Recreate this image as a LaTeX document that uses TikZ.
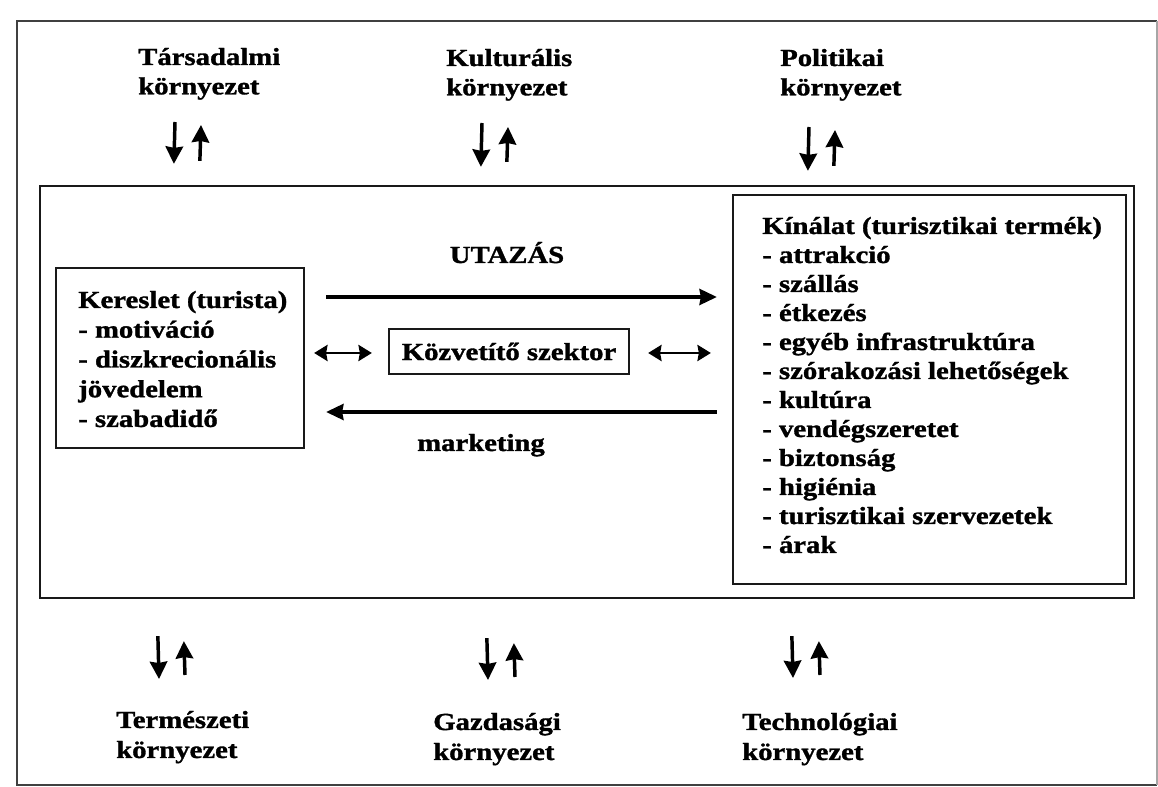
\documentclass[tikz,border=0pt]{standalone}
\usepackage{fontspec}
\newfontfamily\df[FakeStretch=1.17,FakeBold=1.3]{Liberation Serif}
\usetikzlibrary{arrows.meta,calc}
\newcommand\blk[1]{\begin{tabular}[t]{@{}l@{}}#1\end{tabular}}
\begin{document}
\begin{tikzpicture}[x=0.75pt,y=-0.75pt,
  lbl/.style={inner sep=0pt, anchor=base west, font=\df\bfseries\fontsize{18.4}{22}\selectfont},
  boxx/.style={draw=black!90, line width=1.7pt, rectangle, inner sep=0pt},
  envarr/.style={line width=2.6pt, -{Stealth[length=13pt,width=13pt,inset=1pt]}},
  bigarr/.style={line width=2.6pt, -{Stealth[length=13pt,width=12pt,inset=1pt]}},
  dblarr/.style={line width=2.2pt, {Stealth[length=10pt,width=12pt,inset=1pt]}-{Stealth[length=10pt,width=12pt,inset=1pt]}}]
\useasboundingbox (0,0) rectangle (1158,787);
% outer frame
\draw[line width=2pt, black!75] (1157,785) -- (17,785) -- (17,21) -- (1157,21);
\draw[line width=1pt, black!35] (1157,21) -- (1157,785);
% inner frame and boxes
\node[boxx, minimum width=820.5pt, minimum height=309pt] (frame) at (587,392) {};
\node[boxx, minimum width=186pt, minimum height=135pt] (ker) at (180,358) {};
\node[boxx, minimum width=294.75pt, minimum height=291.75pt] (kin) at (929.5,389.5) {};
\node[boxx, minimum width=180pt, minimum height=33.75pt, font=\df\bfseries\fontsize{18.4}{22}\selectfont] (kozv) at (509,351.5) {Közvetítő szektor};
% texts in boxes
\node[lbl, font=\df\bfseries\fontsize{18.4}{22.3}\selectfont] (kert) at (78,308) {\blk{Kereslet (turista)\\- motiváció\\- diszkrecionális\\jövedelem\\- szabadidő}};
\node[lbl, font=\df\bfseries\fontsize{18.4}{21.75}\selectfont] (kint) at (762,234) {\blk{Kínálat (turisztikai termék)\\- attrakció\\- szállás\\- étkezés\\- egyéb infrastruktúra\\- szórakozási lehetőségek\\- kultúra\\- vendégszeretet\\- biztonság\\- higiénia\\- turisztikai szervezetek\\- árak}};
\node[lbl, anchor=base] (utaz) at (507,263) {UTAZÁS};
\node[lbl, anchor=base] (mkt) at (481,451) {marketing};
% environment labels
\node[lbl] (tars) at (138,65) {\blk{Társadalmi\\környezet}};
\node[lbl] (kult) at (446,66) {\blk{Kulturális\\környezet}};
\node[lbl] (pol) at (780,66) {\blk{Politikai\\környezet}};
\node[lbl, font=\df\bfseries\fontsize{18.4}{22.5}\selectfont] (term) at (116,728) {\blk{Természeti\\környezet}};
\node[lbl, font=\df\bfseries\fontsize{18.4}{22.5}\selectfont] (gazd) at (433,730) {\blk{Gazdasági\\környezet}};
\node[lbl, font=\df\bfseries\fontsize{18.4}{22.5}\selectfont] (tech) at (742,730) {\blk{Technológiai\\környezet}};
% main flows
\draw[bigarr] ($(ker.east)+(21,-61)$) -- ($(kin.west)+(-15,-92.5)$);
\draw[bigarr] ($(kin.west)+(-15,22.5)$) -- ($(ker.east)+(21,54)$);
\draw[dblarr] ($(ker.east)+(9,-5)$) -- ($(kozv.west)+(-16,1.5)$);
\draw[dblarr] ($(kozv.east)+(18,1.5)$) -- ($(kin.west)+(-21,-36.5)$);
% top environment arrows
\draw[envarr] ($(tars.base west)+(37,57)$) -- ($(frame.north west)+(135,-21)$);
\draw[envarr] ($(frame.north west)+(161,-24)$) -- ($(tars.base west)+(63,60)$);
\draw[envarr] ($(kult.base west)+(36,57)$) -- ($(frame.north west)+(442,-18)$);
\draw[envarr] ($(frame.north west)+(468,-23)$) -- ($(kult.base west)+(62,61)$);
\draw[envarr] ($(pol.base west)+(29,61)$) -- ($(frame.north west)+(769,-14)$);
\draw[envarr] ($(frame.north west)+(795,-19)$) -- ($(pol.base west)+(55,64)$);
% bottom environment arrows
\draw[envarr] ($(frame.south west)+(119,37)$) -- ($(term.base west)+(43,-49)$);
\draw[envarr] ($(term.base west)+(69,-53)$) -- ($(frame.south west)+(145,42)$);
\draw[envarr] ($(frame.south west)+(448,39)$) -- ($(gazd.base west)+(55,-50)$);
\draw[envarr] ($(gazd.base west)+(82,-53)$) -- ($(frame.south west)+(475,44)$);
\draw[envarr] ($(frame.south west)+(753,37)$) -- ($(tech.base west)+(51,-52)$);
\draw[envarr] ($(tech.base west)+(78,-55)$) -- ($(frame.south west)+(780,42)$);
\end{tikzpicture}
\end{document}
